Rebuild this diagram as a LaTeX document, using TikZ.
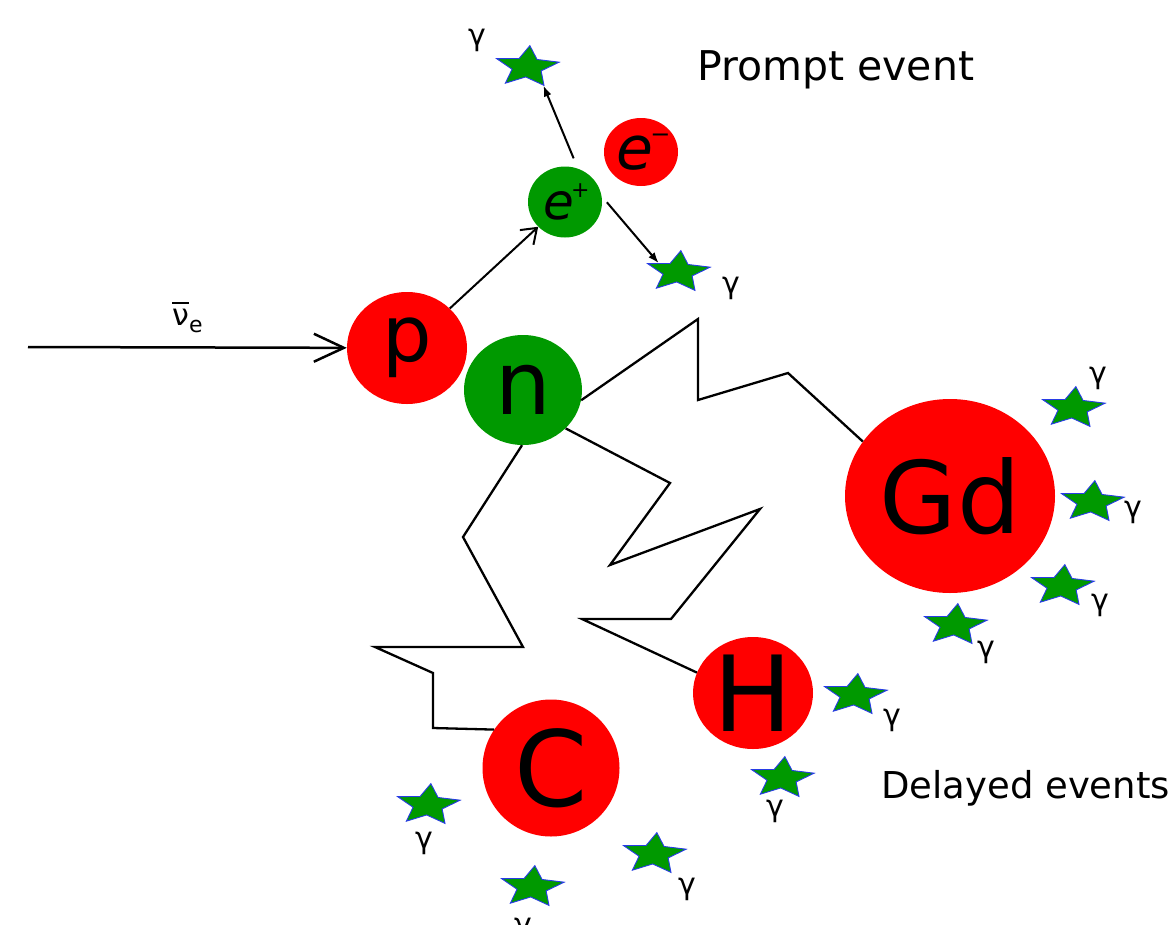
\documentclass[tikz,border=0pt]{standalone}
\usepackage{fontspec}
\setmainfont{DejaVu Sans}
\usetikzlibrary{arrows.meta,shapes.geometric}

\definecolor{ballred}{RGB}{255,0,0}
\definecolor{ballgreen}{RGB}{0,153,0}
\definecolor{starblue}{RGB}{40,60,230}
\newcommand{\fsz}[1]{\fontsize{#1}{#1}\selectfont}
\newcommand{\barnu}{\setbox0\hbox{ν}\rlap{\raisebox{\dimexpr\ht0+5pt\relax}{\rule{\wd0}{2pt}}}\box0}

\begin{document}
\begin{tikzpicture}[x=1pt,y=-1pt,
  ball/.style={ellipse,inner sep=0pt,draw=none},
  photon/.style={star,star points=5,star point ratio=2.15,minimum size=66pt,inner sep=0pt,
    fill=ballgreen,draw=starblue,line width=0.9pt,yscale=0.65,rotate=-5},
  glab/.style={font=\fsz{30},inner sep=0pt},
  track/.style={line width=2.3pt},
  nuarrow/.style={line width=2.5pt,-{Straight Barb[length=30pt,width=28pt]}},
  emit/.style={line width=2pt,-{Straight Barb[length=14pt,width=20pt]}},
  decay/.style={line width=2pt,-{Latex[length=11pt,width=8pt]}}
]
\useasboundingbox (0,0) rectangle (1173,924);

\coordinate (nusrc) at (28,347);
\node[ball,fill=ballred,minimum width=120pt,minimum height=112pt,font=\fsz{78}] (p) at (407,348) {p};
\node[ball,fill=ballgreen,minimum width=118pt,minimum height=110pt,font=\fsz{88}] (n) at (523,390) {n};
\node[ball,fill=ballgreen,minimum width=74pt,minimum height=71pt,font=\fsz{50}\itshape] (ep) at (565,202)
  {e\raisebox{22pt}{\makebox[12pt]{\fsz{22}\upshape +}}};
\node[ball,fill=ballred,minimum width=74pt,minimum height=68pt,font=\fsz{60}\itshape] (em) at (641,152)
  {e\kern2pt\raisebox{27pt}{\makebox[11pt]{\fsz{24}\upshape −}}};
\node[ball,fill=ballred,minimum width=210pt,minimum height=194pt,font=\fsz{100}] (Gd) at (950,496) {Gd};
\node[ball,fill=ballred,minimum width=120pt,minimum height=112pt,font=\fsz{105}] (H) at (753,693) {H};
\node[ball,fill=ballred,minimum width=137pt,minimum height=137pt,font=\fsz{105}] (C) at (551,768) {C};

\node[photon] (g1) at (527,67) {};
\node[photon] (g2) at (678,272) {};
\node[photon] (g3) at (1073,408) {};
\node[photon] (g4) at (1092,502) {};
\node[photon] (g5) at (1062,586) {};
\node[photon] (g6) at (955,625) {};
\node[photon] (g7) at (855,695) {};
\node[photon] (g8) at (782,778) {};
\node[photon] (g9) at (428,805) {};
\node[photon] (g10) at (532,887) {};
\node[photon] (g11) at (654,854) {};

\node[glab] (l1) at (477,40) {γ};
\node[glab] (l2) at (731,288) {γ};
\node[glab] (l3) at (1098,378) {γ};
\node[glab] (l4) at (1133,512) {γ};
\node[glab] (l5) at (1100,605) {γ};
\node[glab] (l6) at (986,652) {γ};
\node[glab] (l7) at (892,720) {γ};
\node[glab] (l8) at (775,811) {γ};
\node[glab] (l9) at (424,843) {γ};
\node[glab] (l10) at (523,929) {γ};
\node[glab] (l11) at (687,889) {γ};

\node[font=\fsz{41},anchor=base west,inner sep=0pt] (prompt) at (697,80) {Prompt event};
\node[font=\fsz{37},anchor=base west,inner sep=0pt] (delayed) at (881,798) {Delayed events};

\draw[nuarrow] (nusrc) -- (p)
  node[midway,above=13pt,font=\fsz{30},inner sep=0pt] (nulab) {\barnu\raisebox{-7pt}{\fsz{22}e}};
\draw[emit] (p) -- (ep);
\draw[decay,shorten <=11pt] (ep.69) -- (g1.-55);
\draw[decay,shorten <=8pt] (ep.9) -- (g2.150);

\draw[track] (n.-10) -- (698,319) -- (698,400) -- (788,373) -- (Gd.148);
\draw[track] (n.-42) -- (670,483) -- (610,565) -- (760,509) -- (671,619) -- (582,619) -- (H.160);
\draw[track] (n.-91) -- (463,537) -- (523,647) -- (375,647) -- (433,673) -- (433,728) -- (C.146);
\end{tikzpicture}
\end{document}
